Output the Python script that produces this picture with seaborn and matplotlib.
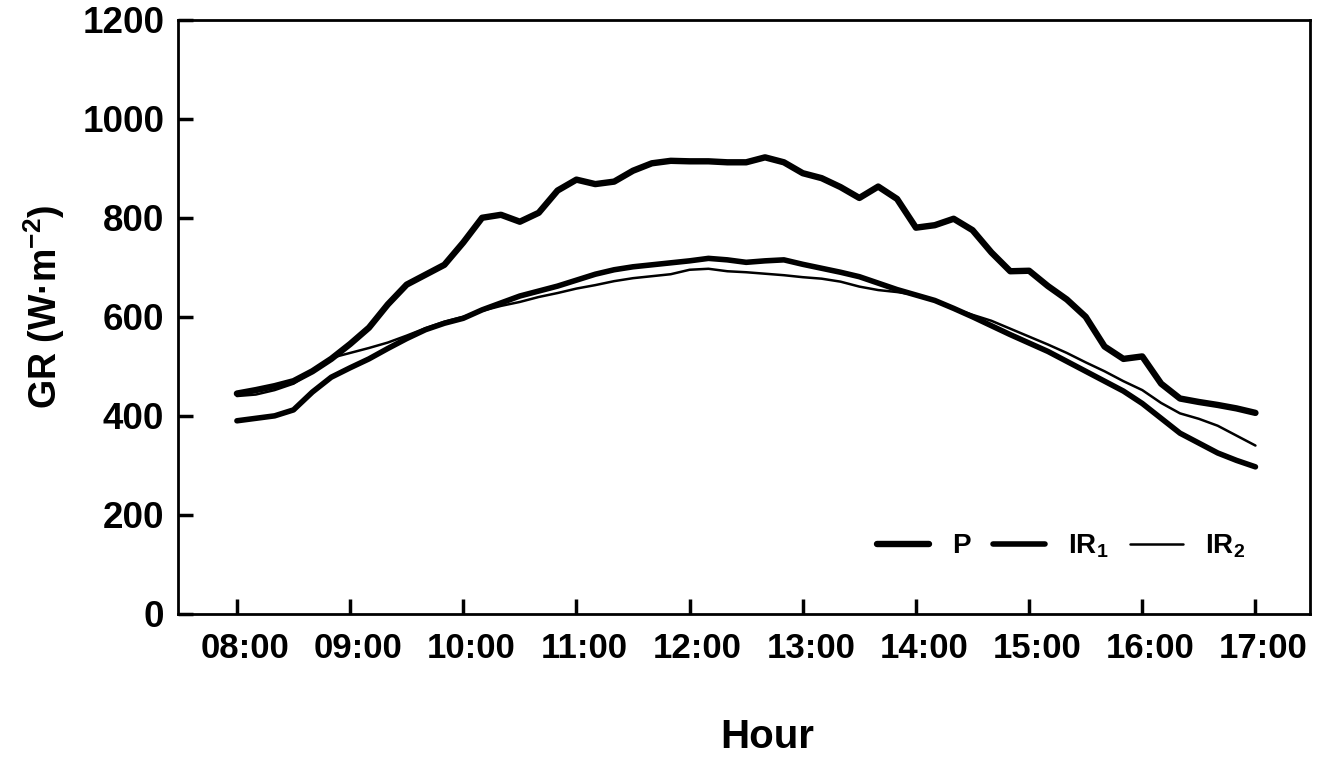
import matplotlib
matplotlib.use("Agg")
import matplotlib.pyplot as plt
import matplotlib.transforms as mtransforms
import seaborn as sns
import pandas as pd

# Time of day in hours (10-minute readings, 08:00 - 17:00)
hours = [8 + i / 6 for i in range(55)]

# Global radiation (W·m-2)
p_values = [445, 452, 460, 470, 490, 515, 545, 578, 625, 665, 685, 705,
            750, 800, 806, 792, 810, 855, 877, 868, 873, 895, 910, 915,
            914, 914, 912, 912, 922, 912, 890, 880, 862, 840, 863, 838,
            780, 785, 798, 775, 730, 692, 693, 662, 635, 600, 540, 515,
            520, 465, 435, 428, 422, 415, 406]
ir1_values = [390, 395, 400, 412, 448, 478, 497, 515, 536, 556, 574, 587,
              597, 614, 628, 642, 652, 662, 674, 686, 695, 701, 705, 709,
              713, 718, 715, 710, 713, 715, 706, 698, 690, 681, 668, 655,
              644, 633, 617, 600, 582, 564, 547, 530, 510, 490, 470, 450,
              425, 395, 365, 345, 325, 310, 297]
ir2_values = [440, 443, 452, 465, 490, 517, 527, 537, 548, 562, 577, 590,
              600, 612, 622, 630, 640, 648, 657, 664, 672, 678, 682, 686,
              695, 697, 692, 690, 687, 684, 680, 677, 671, 661, 654, 650,
              644, 633, 617, 604, 592, 576, 560, 544, 527, 508, 490, 470,
              452, 426, 405, 394, 380, 360, 340]

tick_hours = list(range(8, 18))
tick_labels = [f"{h:02d}:00" for h in tick_hours]
y_ticks = [0, 200, 400, 600, 800, 1000, 1200]

sns.set_style("ticks")
plt.rcParams["font.family"] = ["Liberation Sans", "DejaVu Sans"]
plt.rcParams["font.weight"] = "bold"
plt.rcParams["text.color"] = "black"
plt.rcParams["axes.labelcolor"] = "black"
plt.rcParams["xtick.direction"] = "in"
plt.rcParams["ytick.direction"] = "in"
plt.rcParams["mathtext.fontset"] = "custom"
plt.rcParams["mathtext.rm"] = "Liberation Sans:bold"
plt.rcParams["mathtext.it"] = "Liberation Sans:bold"
plt.rcParams["mathtext.bf"] = "Liberation Sans:bold"
plt.rcParams["mathtext.default"] = "rm"

df = pd.DataFrame({"hour": hours, "P": p_values,
                   "IR1": ir1_values, "IR2": ir2_values})

fig = plt.figure(figsize=(13.19, 7.57), dpi=100)
ax = fig.add_axes([0.135, 0.189, 0.858, 0.785])

styles = [("P", "P", 4.6), ("IR1", "IR$_1$", 4.0), ("IR2", "IR$_2$", 1.8)]
for col, label, lw in styles:
    sns.lineplot(data=df, x="hour", y=col, ax=ax, color="black", lw=lw,
                 label=label, solid_capstyle="round", solid_joinstyle="round")

ax.set_xlim(7.48, 17.48)
ax.set_ylim(0, 1200)
ax.set_xticks(tick_hours)
ax.set_xticklabels(tick_labels)
ax.set_yticks(y_ticks)

for side in ["left", "right", "top", "bottom"]:
    ax.spines[side].set_visible(True)
    ax.spines[side].set_linewidth(2.0)
    ax.spines[side].set_color("black")

ax.tick_params(axis="both", which="major", direction="in", length=11,
               width=2.5, color="black", labelcolor="black",
               bottom=True, left=True, top=False, right=False)
ax.tick_params(axis="x", pad=13, labelsize=25)
ax.tick_params(axis="y", pad=10, labelsize=26.5)

# Hour labels sit slightly right of their ticks
shift = mtransforms.ScaledTranslation(8 / 100, 0, fig.dpi_scale_trans)
for lbl in ax.get_xticklabels():
    lbl.set_transform(lbl.get_transform() + shift)

ax.set_xlabel("Hour", fontsize=29, fontweight="bold", labelpad=36)
ax.set_ylabel("GR (W·m$^{-2}$)", fontsize=27, fontweight="bold", labelpad=10)
ax.xaxis.set_label_coords(0.521, -0.175)
ax.yaxis.set_label_coords(-0.098, 0.517)

leg = ax.legend(loc="center right", bbox_to_anchor=(0.965, 0.114), ncol=3,
                frameon=False, fontsize=20, handlelength=1.9,
                handletextpad=0.8, columnspacing=0.8)
for text in leg.get_texts():
    text.set_fontweight("bold")
    text.set_color("black")

fig.savefig("out.png", dpi=100, facecolor="white")
